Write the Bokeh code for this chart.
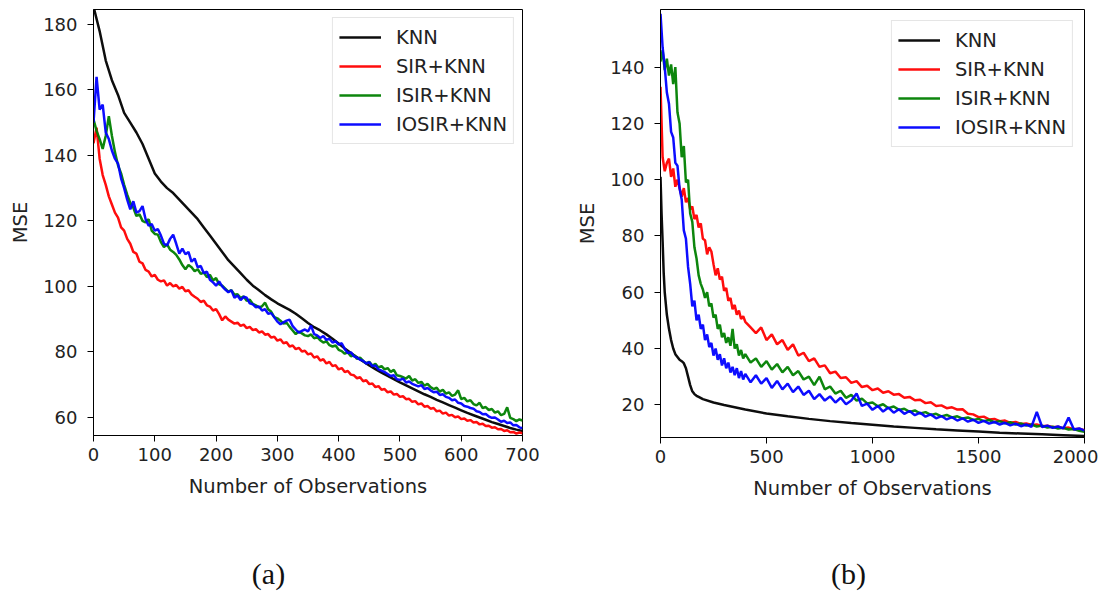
from bokeh.plotting import figure
from bokeh.models import Range1d, FixedTicker, Label, Legend
from bokeh.layouts import row, column
from bokeh.embed import file_html
from bokeh.resources import INLINE

# ---------------- data: panel (a) ----------------
A_KNN_X = list(range(0, 701, 10))
A_KNN = [185.5, 178, 169, 163, 158.5, 153, 150, 147, 143.5, 139,
         134.5, 132, 130, 128.5, 126.5, 124.5, 122.5, 120.5, 118, 115.5,
         113, 110.5, 108, 106, 104, 102, 100.2, 98.8, 97.3, 96,
         94.8, 93.8, 92.8, 91.6, 90.2, 88.8, 87.5, 86.5, 85.3, 84,
         82.5, 81, 79.6, 78.3, 77, 75.8, 74.7, 73.6, 72.6, 71.6,
         70.6, 69.7, 68.8, 67.9, 67, 66.2, 65.3, 64.5, 63.7, 62.9,
         62.1, 61.3, 60.6, 59.9, 59.2, 58.5, 57.9, 57.3, 56.7, 56.2, 55.8]

A_STEP = 5
A_SIR = [143.7, 148.5, 139, 134, 131, 127.5, 125, 122.5, 121, 118,
         117, 114.5, 113, 110.5, 110, 107.5, 107, 105, 104.5, 103,
         103.5, 102, 101.5, 101.8, 100.2, 101, 100, 100.4, 99.3, 99.8,
         98.5, 98.8, 97.5, 96.8, 96.2, 95.2, 95.6, 94.2, 93.8, 92.6,
         93, 91.5, 89.6, 90.8, 89.8, 89.2, 88.6, 88.9, 87.9, 88.3,
         87.2, 87.6, 86.6, 86.9, 85.9, 86.2, 85.2, 85.4, 84.3, 84.6,
         83.4, 83.8, 82.6, 82.9, 81.6, 81.9, 80.8, 81.2, 80.1, 80.3,
         79.2, 79.5, 78.2, 78.6, 77.3, 77.7, 76.4, 76.9, 75.6, 75.9,
         74.6, 75, 73.8, 74.1, 73, 72.8, 71.9, 72.2, 71, 71.3,
         70.1, 70.3, 69.2, 69.5, 68.4, 68.6, 67.6, 67.9, 66.9, 67.1,
         66.2, 66.4, 65.5, 65.6, 64.7, 64.9, 63.9, 64.2, 63.2, 63.4,
         62.6, 62.8, 61.8, 62, 61.1, 61.4, 60.5, 60.7, 60, 60.2,
         59.4, 59.6, 58.9, 59.1, 58.4, 58.5, 57.8, 58, 57.3, 57.4,
         56.8, 56.9, 56.3, 56.4, 55.8, 56, 55.4, 55.5, 55, 55.3, 55.1]

A_ISIR = [151, 147.5, 145, 142, 146, 152, 146, 141, 137, 134.5,
          131, 128, 125.5, 124, 121.5, 122, 120, 119.5, 120.5, 117,
          116, 115.8, 113.5, 112, 112.8, 111.2, 110.5, 109.6, 108.2, 106.5,
          105.2, 106.5, 105.8, 104.6, 105.2, 103.8, 104.2, 102.8, 103.5, 101.8,
          102.5, 100.6, 100.2, 99.3, 98.4, 98.8, 97.4, 97.6, 96.4, 96.9,
          95.6, 95.9, 94.6, 94.2, 93.5, 93.9, 95, 93, 92.2, 90.6,
          90.2, 89.5, 88.6, 88.9, 87.6, 86.5, 85.4, 86.2, 85.6, 85,
          84.8, 85.3, 84.1, 84.5, 83.5, 82.8, 83.2, 82, 81.6, 81.9,
          80.6, 80.2, 79.4, 79.8, 78.6, 79, 77.8, 78.2, 77.2, 76.5,
          76.9, 75.8, 76.3, 75.2, 75.6, 74.6, 75, 73.8, 74.5, 72.8,
          72.6, 72.2, 71.8, 72.6, 71.2, 71.6, 70.5, 70.8, 69.6, 70.2,
          69.2, 68.6, 69, 67.8, 68.4, 67.2, 67.6, 66.5, 66.9, 68.2,
          65.5, 65.9, 64.8, 65.2, 64, 63.6, 64.4, 62.8, 63.1, 62.2,
          62.5, 61.4, 61.8, 60.6, 61, 63, 59.8, 59.4, 58.8, 59.3, 59]

A_IOSIR = [150, 164, 154, 155.5, 147, 145, 141.5, 139, 137.5, 133,
           130, 126.5, 123.5, 126, 122.5, 123, 124.5, 120.5, 118.5, 119,
           117, 117.5, 115.5, 113, 112.5, 114.5, 115.8, 113, 110, 111.5,
           109.8, 110.5, 107.5, 108.5, 105.8, 106.2, 104, 104.5, 102, 101.2,
           100.2, 101.5, 100, 99, 98.2, 98.8, 96.5, 97.2, 95.8, 96.8,
           96.5, 94.8, 94.5, 93.6, 93.8, 92.6, 93, 91.6, 91.8, 90.5,
           89.2, 88.4, 89, 89.5, 89.8, 87.8, 86.8, 85.8, 86.4, 86.8,
           86.2, 88, 85.4, 85, 84.2, 84.8, 83.6, 84, 82.8, 83.2,
           82.2, 82.6, 80.8, 79.6, 79.8, 78.6, 78.2, 77.6, 77.2, 76.4,
           76.8, 75.6, 75.8, 74.6, 74.2, 73.8, 73.2, 72.6, 72.8, 71.6,
           71.4, 71.8, 70.6, 70.9, 70.2, 69.8, 69.4, 69.8, 68.6, 68.9,
           68.2, 67.6, 67.8, 66.8, 67, 66.2, 65.9, 65.2, 65.4, 64.4,
           64.2, 63.4, 63.2, 62.8, 62.6, 61.8, 61.6, 60.9, 61, 60.2,
           59.8, 59.9, 59.3, 58.6, 58.9, 58.2, 58.4, 57.5, 57.6, 56.9, 56.6]

A_XTICKS = [0, 100, 200, 300, 400, 500, 600, 700]
A_YTICKS = [60, 80, 100, 120, 140, 160, 180]

# ---------------- data: panel (b) ----------------
B_KNN_X = [0, 5, 10, 15, 20, 30, 40, 50, 60, 70, 80, 90, 100, 110, 120, 130, 140,
           150, 160, 170, 180, 200, 250, 300, 350, 400, 500, 600, 700, 800, 900,
           1000, 1100, 1200, 1300, 1400, 1500, 1600, 1700, 1800, 1900, 2000]
B_KNN = [101, 88, 78, 67, 60, 52, 47, 43, 40, 38, 37, 36, 35.5, 34.8, 33, 30, 27,
         24.8, 23.8, 23.2, 22.8, 22, 20.8, 19.9, 19.1, 18.3, 16.9, 15.9, 15, 14.2, 13.5,
         12.9, 12.3, 11.8, 11.3, 10.9, 10.5, 10.1, 9.8, 9.5, 9.2, 8.9]

B_X = list(range(0, 400, 10)) + list(range(400, 2001, 25))
B_SIR = [133, 108, 103, 106, 107.5, 101, 104, 97.5, 100, 97,
         94, 97, 92, 93.5, 89.5, 90.5, 86, 87.5, 83, 84.5,
         79, 78.5, 73.5, 76, 74.5, 70, 66, 68.5, 64.5, 65.5,
         60.5, 61.5, 57, 58, 54, 55.5, 52, 53.5, 50.5, 51.5, 49.5,
         47.5, 45.5, 47.5, 43, 45, 41.5, 43, 39.5, 41.5, 37.5,
         38.5, 35.5, 36.5, 33.5, 34, 31.2, 31.8, 29.5, 29.8, 27.8,
         28.4, 26.3, 26.8, 25.2, 25.8, 24.3, 24.8, 23.6, 23.8, 22.5,
         22.8, 21.6, 21.8, 20.6, 20.9, 19.6, 19.8, 18.8, 19.1, 18.3,
         18.4, 16.8, 16.6, 15.6, 15.8, 14.8, 15, 14.2, 14.4, 13.6,
         13.9, 13.2, 13.4, 12.8, 13, 12.4, 12.6, 12, 12.2, 11.7,
         11.9, 11.3, 11.5, 11]
B_ISIR = [142, 146, 139, 143, 137, 141, 134, 140, 124, 120,
          108, 112, 99, 100, 88, 85, 76, 72, 66, 63,
          61, 58, 60, 55, 56, 51, 52, 47, 48.5, 44,
          45.5, 42, 44, 41, 47, 40, 41.5, 37.5, 39.5, 36.5, 38,
          35, 36.5, 33.5, 35.5, 32.5, 34.5, 31.5, 33.5, 30.5, 32,
          29, 30, 27, 30, 25.5, 26.5, 24, 25, 22.5, 23.5,
          21.5, 22.2, 20.5, 20.8, 19.5, 20.2, 18.8, 19.4, 18.2, 18.6,
          17.5, 18, 16.9, 17.4, 16.4, 16.8, 15.9, 16.4, 15.5, 15.9,
          15.1, 15.5, 14.6, 15, 14.2, 14.6, 13.8, 14.2, 13.4, 13.8,
          13, 13.4, 12.6, 13, 12.3, 12.6, 11.9, 12.2, 11.6, 11.8,
          11.2, 11.4, 10.8, 10.4]
B_IOSIR = [159, 147, 140, 131, 127, 117, 115, 106, 105, 97,
           93, 82, 79, 69, 63, 55, 57, 50, 52, 47,
           48.5, 43, 45, 40.5, 42, 37.5, 40, 36, 38, 34,
           36.5, 33, 35, 31.5, 33.5, 30.5, 33, 29.5, 32, 29, 31,
           28, 30.5, 27.5, 29.5, 26, 28.5, 25.5, 27.5, 24.5, 26.5,
           23.5, 25, 22, 23.8, 21.5, 23, 20.8, 22.5, 20.2, 21.5,
           24, 19.6, 20.4, 18.2, 19.6, 17.6, 19, 17.2, 18.4, 16.8,
           17.8, 16.3, 17.2, 15.8, 16.6, 15.2, 16, 14.8, 15.6, 14.4,
           15.2, 14, 14.7, 13.6, 14.3, 13.3, 13.9, 13, 13.6, 12.7,
           13.3, 12.4, 13, 12.2, 17.5, 12.1, 12.6, 11.8, 12.3, 11.6,
           15.5, 11.2, 11.6, 10.8]

B_XTICKS = [0, 500, 1000, 1500, 2000]
B_YTICKS = [20, 40, 60, 80, 100, 120, 140]

LABELS = ["KNN", "SIR+KNN", "ISIR+KNN", "IOSIR+KNN"]
COLORS = ["#000000", "#ff0000", "#008000", "#0000ff"]
CAPTIONS = ["(a)", "(b)"]

FONT = "DejaVu Sans"
TXT = "#222222"
TICK_FS = "18px"
LAB_FS = "19.5px"


def style(p, xticks, yticks):
    p.outline_line_color = "black"
    p.outline_line_width = 1
    p.xgrid.visible = False
    p.ygrid.visible = False
    for ax in (p.xaxis[0], p.yaxis[0]):
        ax.axis_line_color = "black"
        ax.major_tick_line_color = "black"
        ax.major_tick_out = 6
        ax.major_tick_in = 0
        ax.minor_tick_line_color = None
        ax.major_label_text_font = FONT
        ax.major_label_text_font_size = TICK_FS
        ax.major_label_text_color = TXT
        ax.axis_label_text_font = FONT
        ax.axis_label_text_font_size = LAB_FS
        ax.axis_label_text_font_style = "normal"
        ax.axis_label_text_color = TXT
    p.xaxis[0].ticker = FixedTicker(ticks=xticks)
    p.yaxis[0].ticker = FixedTicker(ticks=yticks)
    p.xaxis[0].major_label_standoff = 6
    p.yaxis[0].major_label_standoff = 10
    p.xaxis[0].axis_label_standoff = 11
    p.yaxis[0].axis_label_standoff = 8
    p.xaxis[0].axis_label = "Number of Observations"
    p.yaxis[0].axis_label = "MSE"


def add_lines(p, series, margin):
    items = []
    for (xs, ys), lab, col in zip(series, LABELS, COLORS):
        n = min(len(xs), len(ys))
        r = p.line(xs[:n], ys[:n], line_color=col, line_width=2.5, line_alpha=0.95)
        items.append((lab, [r]))
    leg = Legend(items=items, location="top_right")
    leg.margin = margin
    leg.padding = 6
    leg.spacing = 3
    leg.glyph_width = 42
    leg.glyph_height = 26
    leg.label_height = 26
    leg.label_standoff = 15
    leg.label_text_font = FONT
    leg.label_text_font_size = LAB_FS
    leg.label_text_color = TXT
    leg.border_line_color = "#cccccc"
    leg.border_line_width = 1
    leg.background_fill_alpha = 0.8
    p.add_layout(leg)


def caption(text, width, height, cx, base):
    c = figure(width=width, height=height, output_backend="svg", toolbar_location=None,
               x_range=Range1d(0, width), y_range=Range1d(0, height),
               x_axis_location=None, y_axis_location=None,
               min_border=0, min_border_left=0, min_border_right=0,
               min_border_top=0, min_border_bottom=0)
    c.xgrid.visible = False
    c.ygrid.visible = False
    c.outline_line_color = None
    c.add_layout(Label(x=cx, y=base, text=text,
                       text_align="center", text_baseline="alphabetic",
                       text_font="Liberation Serif", text_font_size="30px",
                       text_color="#111111"))
    return c


# ---------------- figure (a) ----------------
pa = figure(frame_width=429, frame_height=426, output_backend="svg", toolbar_location=None,
            x_range=Range1d(0, 700), y_range=Range1d(54.4, 184.6),
            min_border_left=93, min_border_right=30, min_border_top=9, min_border_bottom=105)
style(pa, A_XTICKS, A_YTICKS)
add_lines(pa, [(A_KNN_X, A_KNN),
               (list(range(0, A_STEP * len(A_SIR), A_STEP)), A_SIR),
               (list(range(0, A_STEP * len(A_ISIR), A_STEP)), A_ISIR),
               (list(range(0, A_STEP * len(A_IOSIR), A_STEP)), A_IOSIR)], 8)

# ---------------- figure (b) ----------------
pb = figure(frame_width=424, frame_height=428, output_backend="svg", toolbar_location=None,
            x_range=Range1d(0, 2000), y_range=Range1d(8.38, 160.5),
            min_border_left=108, min_border_right=14, min_border_top=9, min_border_bottom=103)
style(pb, B_XTICKS, B_YTICKS)
add_lines(pb, [(B_KNN_X, B_KNN), (B_X, B_SIR), (B_X, B_ISIR), (B_X, B_IOSIR)], 11)

ca = caption(CAPTIONS[0], 552, 52, 268, 19)
cb = caption(CAPTIONS[1], 546, 52, 296, 19)

layout = column(row(pa, pb), row(ca, cb))
open("out.html", "w").write(file_html(layout, INLINE))
